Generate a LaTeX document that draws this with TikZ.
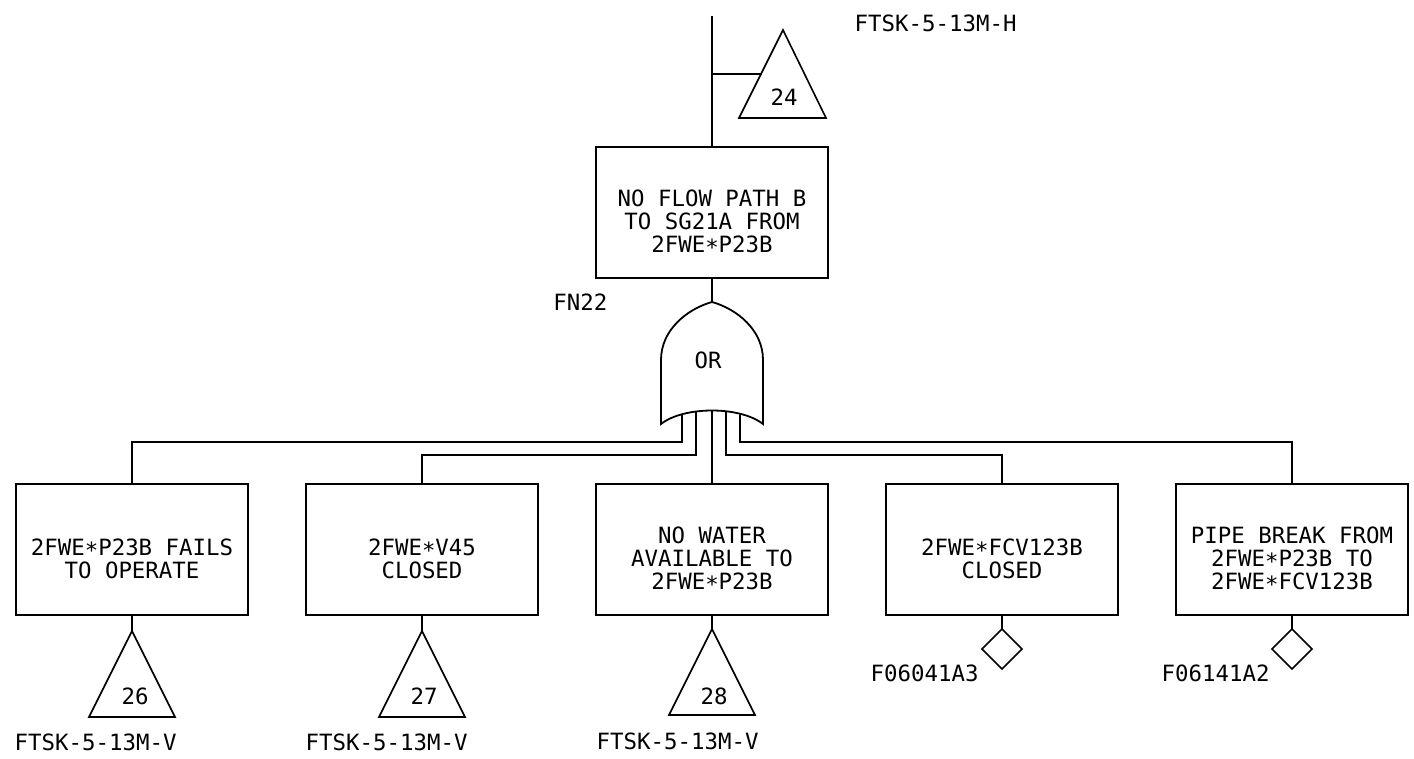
\documentclass[tikz,border=0pt]{standalone}
\usepackage{fontspec}
\setmonofont{DejaVu Sans Mono}
\usetikzlibrary{positioning, shapes.geometric}

\newcommand{\fst}{\raisebox{-1.5pt}{*}}
\newcommand{\evtext}[1]{\raisebox{-6pt}[\height][\depth]{\begin{tabular}{@{}c@{}}#1\end{tabular}}}

\begin{document}
\begin{tikzpicture}[
    x=0.5pt, y=-0.5pt,
    line width=0.7pt,
    node distance=29pt,
    event/.style={
        draw,
        rectangle,
        line width=0.9pt,
        minimum width=116pt,
        minimum height=65.5pt,
        inner sep=0pt,
        outer sep=0pt,
        font=\ttfamily\fontsize{11.2}{10.5}\selectfont
    },
    tag/.style={font=\ttfamily\fontsize{11.2}{13}\selectfont, inner sep=0pt},
    house/.style={draw, diamond, line width=0.8pt, minimum size=20pt, inner sep=0pt, outer sep=0pt},
    tri/.style={draw, line width=0.8pt, line join=miter},
    gate/.style={draw, fill=white, line width=0.9pt}
]
\useasboundingbox (0,0) rectangle (1414,759);

% top event
\node[event] (ev0) at (712,212.5) {\evtext{NO FLOW PATH B\\TO SG21A FROM\\2FWE\fst P23B}};
\node[tag, anchor=west] (lh) at (854,23) {FTSK-5-13M-H};
\node[tag, anchor=east] (fn) at (608,302) {FN22};

% transfer out
\coordinate (top) at (712,16);
\coordinate (j0) at (712,74);
\coordinate (t0) at (783,30);
\coordinate (t0w) at (762,74);
\draw (top) -- (ev0.north);
\draw (j0) -- (t0w);
\draw[tri] (t0) -- ++(43,88) -- ++(-87,0) -- cycle;
\node[tag] (n0) at (784,97) {24};

% basic row
\node[event] (ev1) at (132,549.5) {\evtext{2FWE\fst P23B FAILS\\TO OPERATE}};
\node[event, right=of ev1] (ev2) {\evtext{2FWE\fst V45\\CLOSED}};
\node[event, right=of ev2] (ev3) {\evtext{NO WATER\\AVAILABLE TO\\2FWE\fst P23B}};
\node[event, right=of ev3] (ev4) {\evtext{2FWE\fst FCV123B\\CLOSED}};
\node[event, right=of ev4] (ev5) {\evtext{PIPE BREAK FROM\\2FWE\fst P23B TO\\2FWE\fst FCV123B}};

% transfer in
\coordinate[below=8pt of ev1] (t1);
\coordinate[below=8pt of ev2] (t2);
\coordinate[below=7pt of ev3] (t3);
\draw (ev1.south) -- (t1);
\draw (ev2.south) -- (t2);
\draw (ev3.south) -- (t3);
\draw[tri] (t1) -- ++(43,86) -- ++(-86,0) -- cycle;
\draw[tri] (t2) -- ++(43,86) -- ++(-86,0) -- cycle;
\draw[tri] (t3) -- ++(43,86) -- ++(-86,0) -- cycle;
\node[tag] (n1) at ([xshift=1.5pt, yshift=-32.5pt]t1) {26};
\node[tag] (n2) at ([xshift=1pt, yshift=-32.5pt]t2) {27};
\node[tag] (n3) at ([xshift=1pt, yshift=-33.5pt]t3) {28};
\node[tag, anchor=west] (l1) at (14,742) {FTSK-5-13M-V};
\node[tag, anchor=west] (l2) at (305,742) {FTSK-5-13M-V};
\node[tag, anchor=west] (l3) at (596,741) {FTSK-5-13M-V};

% undeveloped
\node[house, below=7pt of ev4] (d4) {};
\node[house, below=7pt of ev5] (d5) {};
\draw (ev4.south) -- (d4.north);
\draw (ev5.south) -- (d5.north);
\node[tag, anchor=west] (l4) at (870,673) {F06041A3};
\node[tag, anchor=west] (l5) at (1161,673) {F06141A2};

% or gate inputs
\coordinate (gtop) at (712,302);
\coordinate (gi1) at (682,405);
\coordinate (gi2) at (696,405);
\coordinate (gi3) at (712,405);
\coordinate (gi4) at (726,405);
\coordinate (gi5) at (740,405);
\draw (ev0.south) -- (gtop);
\draw (gi1) -- ++(0,37) -| (ev1.north);
\draw (gi2) -- ++(0,50) -| (ev2.north);
\draw (gi3) -- (ev3.north);
\draw (gi4) -- ++(0,50) -| (ev4.north);
\draw (gi5) -- ++(0,37) -| (ev5.north);

% or gate
\draw[gate] (661,424) -- (661,360) .. controls (661,330) and (687,309) .. (gtop)
    .. controls (737,309) and (763,330) .. (763,360) -- (763,424)
    .. controls (740,406) and (684,406) .. (661,424) -- cycle;
\node[tag] (g) at (708,360) {OR};
\end{tikzpicture}
\end{document}
